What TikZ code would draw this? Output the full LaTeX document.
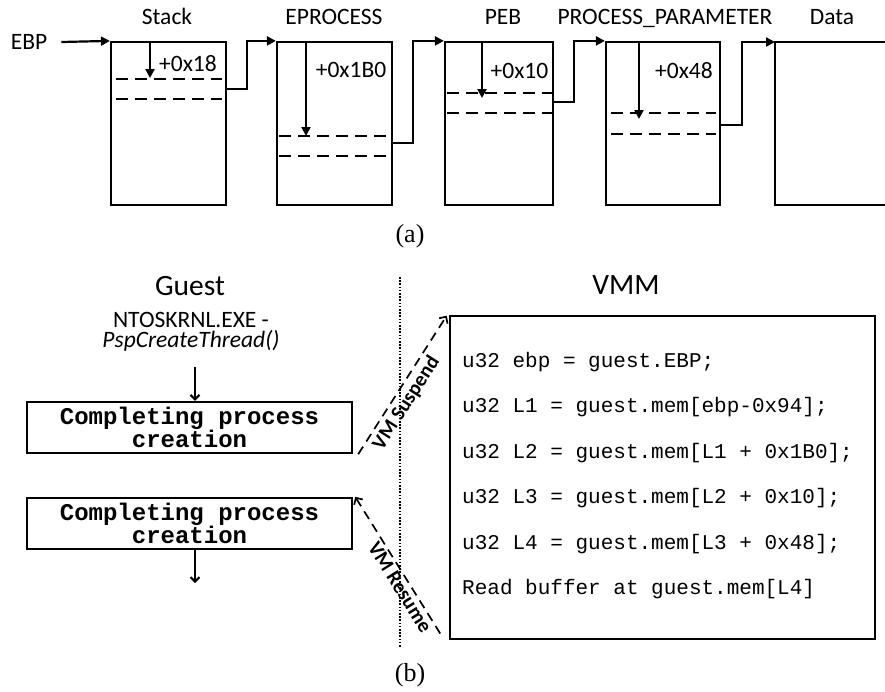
\documentclass[tikz,border=0pt]{standalone}
\usepackage{fontspec}
\setmainfont{Carlito}
\newfontfamily\codefont{Liberation Mono}
\newfontfamily\capfont{Liberation Serif}
\usetikzlibrary{arrows.meta,calc}
\tikzset{
  membox/.style={draw, line width=2.2pt, minimum height=163pt, inner sep=0pt},
  dashrow/.style={line width=2.2pt, dash pattern=on 11.5pt off 7.5pt},
  ptr/.style={line width=2.2pt, -{Triangle[length=9pt,width=9pt]}},
  lab/.style={font=\fontsize{23.5}{28}\selectfont, inner sep=0pt, anchor=base},
  big/.style={font=\fontsize{29.5}{34}\selectfont, inner sep=0pt, anchor=base},
  gbox/.style={draw, line width=2.4pt, minimum width=325pt, minimum height=51pt, inner sep=0pt, align=center,
    font=\codefont\bfseries\fontsize{24}{21}\selectfont},
  garrow/.style={line width=2pt, -{Straight Barb[length=4.5pt,width=9pt]}},
  vbox/.style={draw, line width=2.6pt, minimum width=425pt, minimum height=323pt, inner sep=0pt},
  code/.style={font=\codefont\fontsize{21}{24}\selectfont, inner sep=0pt, anchor=base west},
  vmline/.style={line width=1.7pt, dash pattern=on 9pt off 6pt},
  vmlab/.style={font=\bfseries\fontsize{20.5}{24}\selectfont, inner sep=2pt},
  caplab/.style={font=\capfont\fontsize{26}{30}\selectfont, inner sep=0pt}
}
\begin{document}
\begin{tikzpicture}[x=1pt,y=-1pt]
\useasboundingbox (0,0) rectangle (885,691);

% ---------- (a) ----------
\node[membox, minimum width=115pt] (stack) at (168.5,123.5) {};
\node[membox, minimum width=115pt] (eproc) at (334.5,123.5) {};
\node[membox, minimum width=108pt] (peb) at (499,123.5) {};
\node[membox, minimum width=114pt] (pp) at (663,123.5) {};
\coordinate (dnw) at (775,42);
\coordinate (dsw) at (775,205);
\draw[line width=2.2pt] (887,42) -- (dnw) -- (dsw) -- (887,205);

\node[lab] (tstack) at (167,24) {Stack};
\node[lab] (teproc) at (334,24) {EPROCESS};
\node[lab] (tpeb) at (503,24) {PEB};
\node[lab] (tpp) at (665,24) {PROCESS\_PARAMETER};
\node[lab] (tdata) at (832,24) {Data};

\node[lab, anchor=center] (ebp) at (29,42) {EBP};
\draw[ptr] ([xshift=14pt]ebp.east) -- (stack.north west);

% offsets
\draw[ptr] (150,42) -- (150,78);
\node[lab] (o1) at (188,71) {+0x18};
\draw[dashrow] (116,79) -- (222,79);
\draw[dashrow] (116,99) -- (222,99);

\draw[ptr] (306,42) -- (306,136);
\node[lab] (o2) at (351,77) {+0x1B0};
\draw[dashrow] (279,136) -- (387,136);
\draw[dashrow] (279,156) -- (387,156);

\draw[ptr] (482,42) -- (482,98);
\node[lab] (o3) at (519.5,78) {+0x10};
\draw[dashrow] (447,93) -- (552,93);
\draw[dashrow] (447,113) -- (552,113);

\draw[ptr] (639,42) -- (639,119);
\node[lab] (o4) at (684,78) {+0x48};
\draw[dashrow] (611,113) -- (716,113);
\draw[dashrow] (611,134) -- (716,134);

% links
\draw[ptr] (stack.east |- 0,89) -- (247,89) |- (eproc.north west);
\draw[ptr] (eproc.east |- 0,143) -- (413,143) |- (peb.north west);
\draw[ptr] (peb.east |- 0,102) -- (574,102) |- (pp.north west);
\draw[ptr] (pp.east |- 0,125) -- (742,125) |- (dnw);

\node[caplab] (capa) at (410,236) {(a)};

% ---------- (b) ----------
\node[big] (guest) at (190,295) {Guest};
\node[lab] (nt1) at (191,327) {NTOSKRNL.EXE -};
\node[lab] (nt2) at (191,347) {\itshape PspCreateThread()};
\coordinate (ntbot) at (195,367);

\node[gbox] (b1) at (189.5,427.5) {Completing process\\creation};
\node[gbox] (b2) at (189.5,523.5) {Completing process\\creation};
\coordinate (gend) at (195,583);
\draw[garrow] (ntbot) -- (b1.north -| ntbot);
\draw[garrow] (b2.south -| gend) -- (gend);

\coordinate (dtop) at (400,277);
\coordinate (dbot) at (400,648);
\draw[line width=1.6pt, dash pattern=on 1.6pt off 1.6pt] (dtop) -- (dbot);

\node[big] (vmmt) at (626,294) {VMM};
\node[vbox] (vmm) at (662.5,477.5) {};
\node[code] (c1) at (462,367) {u32 ebp = guest.EBP;};
\node[code] (c2) at (462,412.5) {u32 L1 = guest.mem[ebp-0x94];};
\node[code] (c3) at (462,458) {u32 L2 = guest.mem[L1 + 0x1B0];};
\node[code] (c4) at (462,503.5) {u32 L3 = guest.mem[L2 + 0x10];};
\node[code] (c5) at (462,549) {u32 L4 = guest.mem[L3 + 0x48];};
\node[code] (c6) at (462,594.5) {Read buffer at guest.mem[L4]};

\draw[vmline, -{Straight Barb[length=5pt,width=10pt]}]
  ($(b1.south east)+(5,0)$) -- node[pos=0.42, sloped, below=1.5pt, vmlab] (sus) {VM Suspend}
  ($(vmm.north west)+(-2,1)$);
\draw[vmline, {Straight Barb[length=5pt,width=10pt]}-]
  ($(b2.north east)+(2,0)$) -- node[pos=0.62, sloped, below=0pt, vmlab] (res) {VM Resume}
  ($(vmm.south west)+(-8,-6)$);

\node[caplab] (capb) at (410,675) {(b)};
\end{tikzpicture}
\end{document}
